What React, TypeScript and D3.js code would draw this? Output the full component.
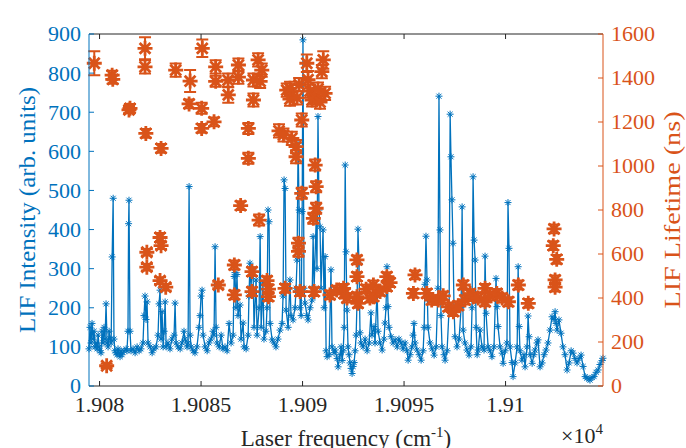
import React, { useEffect, useRef } from 'react';
import * as d3 from 'd3';

// LIF intensity scan: [frequency (cm^-1), intensity (arb. units)]
const intensityScan: [number, number][] = [
  [19079.48, 95], [19079.53, 150], [19079.58, 110], [19079.63, 160], [19079.68, 120],
  [19079.73, 140], [19079.78, 100], [19079.83, 110], [19079.88, 95], [19079.93, 130],
  [19079.98, 100], [19080.02, 90], [19080.07, 85], [19080.12, 140], [19080.17, 110],
  [19080.22, 150], [19080.27, 120], [19080.32, 210], [19080.37, 110], [19080.42, 100],
  [19080.47, 140], [19080.52, 120], [19080.57, 110], [19080.62, 330], [19080.67, 480],
  [19080.71, 120], [19080.76, 90], [19080.81, 85], [19080.86, 80], [19080.91, 95],
  [19080.96, 85], [19081.01, 75], [19081.06, 90], [19081.11, 80], [19081.21, 90],
  [19081.31, 95], [19081.35, 90], [19081.40, 140], [19081.43, 415], [19081.45, 475],
  [19081.50, 140], [19081.55, 90], [19081.65, 95], [19081.75, 85], [19081.85, 100],
  [19081.95, 90], [19082.04, 95], [19082.14, 110], [19082.19, 180], [19082.24, 230],
  [19082.29, 170], [19082.34, 215], [19082.39, 110], [19082.49, 100], [19082.59, 85],
  [19082.68, 95], [19082.78, 100], [19082.88, 130], [19082.93, 210], [19082.98, 245],
  [19083.03, 120], [19083.08, 190], [19083.13, 100], [19083.18, 140], [19083.23, 215],
  [19083.28, 100], [19083.37, 110], [19083.47, 95], [19083.57, 120], [19083.67, 130],
  [19083.72, 212], [19083.77, 110], [19083.87, 100], [19083.97, 95], [19084.06, 110],
  [19084.16, 140], [19084.21, 120], [19084.31, 100], [19084.36, 110], [19084.41, 510],
  [19084.46, 130], [19084.51, 100], [19084.61, 90], [19084.70, 85], [19084.80, 100],
  [19084.90, 150], [19084.95, 180], [19085.00, 230], [19085.05, 245], [19085.10, 130],
  [19085.20, 100], [19085.30, 90], [19085.39, 110], [19085.49, 120], [19085.59, 140],
  [19085.64, 130], [19085.69, 356], [19085.74, 150], [19085.79, 110], [19085.89, 100],
  [19085.99, 130], [19086.08, 95], [19086.18, 100], [19086.28, 90], [19086.38, 160],
  [19086.48, 110], [19086.58, 130], [19086.63, 280], [19086.67, 290], [19086.72, 200],
  [19086.77, 285], [19086.82, 180], [19086.92, 207], [19086.97, 120], [19087.07, 161],
  [19087.12, 100], [19087.22, 95], [19087.32, 130], [19087.36, 230], [19087.41, 314],
  [19087.46, 250], [19087.51, 300], [19087.56, 297], [19087.61, 150], [19087.71, 271],
  [19087.76, 130], [19087.86, 200], [19087.91, 382], [19087.96, 150], [19088.05, 263],
  [19088.10, 120], [19088.20, 140], [19088.25, 200], [19088.30, 450], [19088.35, 420],
  [19088.40, 160], [19088.50, 118], [19088.60, 110], [19088.69, 100], [19088.79, 120],
  [19088.89, 143], [19088.99, 160], [19089.04, 230], [19089.09, 527], [19089.14, 505],
  [19089.19, 194], [19089.29, 150], [19089.38, 271], [19089.43, 180], [19089.53, 169],
  [19089.63, 200], [19089.68, 250], [19089.73, 322], [19089.78, 620], [19089.83, 450],
  [19089.88, 200], [19089.93, 180], [19089.98, 446], [19090.02, 885], [19090.07, 250],
  [19090.12, 212], [19090.22, 180], [19090.27, 169], [19090.37, 200], [19090.47, 220],
  [19090.52, 382], [19090.57, 250], [19090.67, 424], [19090.71, 300], [19090.76, 689],
  [19090.81, 450], [19090.86, 407], [19090.91, 250], [19091.01, 399], [19091.06, 200],
  [19091.11, 331], [19091.16, 90], [19091.21, 75], [19091.31, 80], [19091.40, 297],
  [19091.45, 100], [19091.55, 85], [19091.60, 92], [19091.70, 70], [19091.75, 49],
  [19091.85, 80], [19091.90, 100], [19091.95, 65], [19092.00, 90], [19092.05, 150],
  [19092.10, 565], [19092.14, 343], [19092.19, 194], [19092.24, 100], [19092.29, 80],
  [19092.34, 59], [19092.39, 45], [19092.44, 32], [19092.49, 50], [19092.54, 60],
  [19092.59, 90], [19092.64, 130], [19092.69, 230], [19092.73, 401], [19092.78, 314],
  [19092.83, 136], [19092.88, 110], [19092.98, 100], [19093.08, 120], [19093.18, 90],
  [19093.28, 110], [19093.37, 187], [19093.42, 130], [19093.52, 152], [19093.57, 110],
  [19093.67, 246], [19093.72, 140], [19093.82, 110], [19093.92, 92], [19094.01, 120],
  [19094.06, 161], [19094.11, 200], [19094.16, 305], [19094.21, 203], [19094.26, 150],
  [19094.36, 126], [19094.46, 110], [19094.56, 118], [19094.66, 100], [19094.75, 120],
  [19094.85, 110], [19094.95, 95], [19095.05, 110], [19095.15, 90], [19095.20, 66],
  [19095.30, 80], [19095.39, 100], [19095.44, 130], [19095.49, 160], [19095.54, 110],
  [19095.64, 92], [19095.74, 80], [19095.84, 66], [19095.94, 90], [19095.99, 150],
  [19096.03, 260], [19096.08, 383], [19096.13, 271], [19096.18, 150], [19096.28, 110],
  [19096.38, 95], [19096.48, 79], [19096.58, 100], [19096.67, 250], [19096.72, 741],
  [19096.77, 399], [19096.82, 180], [19096.87, 100], [19096.97, 80], [19097.02, 66],
  [19097.12, 90], [19097.22, 200], [19097.27, 695], [19097.31, 586], [19097.36, 476],
  [19097.41, 365], [19097.46, 200], [19097.51, 126], [19097.61, 100], [19097.71, 120],
  [19097.81, 200], [19097.86, 458], [19097.91, 143], [19098.00, 110], [19098.10, 92],
  [19098.20, 79], [19098.30, 100], [19098.35, 200], [19098.40, 535], [19098.45, 373],
  [19098.50, 322], [19098.55, 150], [19098.60, 80], [19098.65, 92], [19098.74, 143],
  [19098.84, 100], [19098.94, 92], [19098.99, 332], [19099.04, 186], [19099.14, 100],
  [19099.24, 90], [19099.33, 75], [19099.43, 100], [19099.53, 275], [19099.58, 203],
  [19099.63, 152], [19099.73, 100], [19099.83, 84], [19099.88, 58], [19099.98, 90],
  [19100.07, 110], [19100.12, 469], [19100.17, 352], [19100.22, 100], [19100.32, 60],
  [19100.37, 24], [19100.47, 59], [19100.57, 100], [19100.62, 305], [19100.67, 152],
  [19100.71, 90], [19100.81, 66], [19100.91, 80], [19100.96, 49], [19101.06, 100],
  [19101.11, 179], [19101.16, 126], [19101.21, 80], [19101.31, 58], [19101.40, 80],
  [19101.45, 92], [19101.55, 110], [19101.60, 118], [19101.70, 49], [19101.80, 59],
  [19101.90, 80], [19101.99, 92], [19102.09, 110], [19102.19, 143], [19102.29, 177],
  [19102.39, 170], [19102.44, 190], [19102.49, 160], [19102.54, 143], [19102.63, 169],
  [19102.73, 135], [19102.83, 100], [19102.93, 80], [19103.03, 41], [19103.13, 59],
  [19103.23, 90], [19103.33, 84], [19103.42, 70], [19103.52, 59], [19103.62, 70],
  [19103.72, 79], [19103.82, 50], [19103.92, 24], [19104.01, 20], [19104.11, 18],
  [19104.16, 15], [19104.26, 22], [19104.36, 24], [19104.46, 35], [19104.56, 41],
  [19104.65, 55], [19104.75, 65], [19104.80, 71],
];

// LIF lifetimes: [frequency (cm^-1), lifetime (ns), error (ns)]
const lifetimes: [number, number, number][] = [
  [19079.74, 1467, 55], [19080.35, 92, 10], [19080.62, 1413, 20], [19080.65, 1394, 20],
  [19081.45, 1255, 15], [19081.50, 1262, 20], [19082.24, 1535, 50], [19082.24, 1451, 30],
  [19082.28, 1148, 20], [19082.33, 608, 15], [19082.33, 540, 15], [19082.98, 675, 20],
  [19083.03, 638, 15], [19083.03, 1080, 20], [19082.98, 479, 15], [19083.26, 449, 15],
  [19083.75, 1436, 30], [19084.41, 1282, 20], [19084.46, 1386, 50], [19085.06, 1535, 40],
  [19085.03, 1262, 25], [19085.03, 1171, 20], [19085.64, 1201, 20], [19085.72, 1451, 30],
  [19085.72, 1385, 25], [19085.85, 459, 15], [19086.34, 1323, 35], [19086.33, 1390, 30],
  [19086.64, 550, 20], [19086.64, 414, 20], [19086.84, 1459, 30], [19086.84, 1404, 30],
  [19086.95, 820, 20], [19087.33, 1171, 25], [19087.33, 1035, 25], [19087.51, 520, 20],
  [19087.51, 429, 20], [19087.58, 1300, 30], [19087.58, 1391, 30], [19087.81, 1482, 30],
  [19087.86, 754, 25], [19087.91, 1385, 30], [19087.99, 1436, 30], [19088.25, 479, 20],
  [19088.32, 406, 20], [19088.32, 440, 20], [19088.84, 1160, 30], [19089.06, 1141, 30],
  [19089.14, 444, 20], [19089.22, 1345, 30], [19089.38, 1353, 30], [19089.38, 1304, 30],
  [19089.47, 1126, 30], [19089.68, 1088, 30], [19089.68, 1042, 30], [19089.73, 1310, 30],
  [19089.80, 649, 25], [19089.80, 612, 25], [19089.83, 1370, 30], [19089.88, 429, 20],
  [19089.96, 876, 25], [19089.96, 1209, 30], [19090.21, 1467, 40], [19090.27, 1392, 40],
  [19090.37, 1340, 30], [19090.47, 1300, 30], [19090.53, 762, 25], [19090.57, 429, 20],
  [19090.62, 1004, 25], [19090.62, 1310, 30], [19090.67, 906, 25], [19090.67, 808, 25],
  [19090.76, 1350, 30], [19090.86, 1290, 30], [19090.95, 1429, 30], [19091.02, 1482, 40],
  [19091.11, 1330, 30], [19091.35, 414, 20], [19091.68, 436, 20], [19092.02, 444, 20],
  [19092.05, 420, 20], [19092.19, 400, 20], [19092.68, 573, 20], [19092.68, 497, 20],
  [19092.68, 406, 20], [19092.73, 376, 20], [19093.13, 440, 20], [19093.32, 400, 20],
  [19093.49, 459, 20], [19093.49, 406, 20], [19093.82, 430, 20], [19094.15, 497, 20],
  [19094.15, 452, 20], [19094.31, 470, 20], [19095.46, 421, 20], [19095.54, 505, 20],
  [19096.12, 421, 20], [19096.36, 391, 20], [19096.69, 391, 20], [19096.93, 410, 20],
  [19097.18, 360, 20], [19097.43, 338, 20], [19097.67, 365, 20], [19097.92, 459, 20],
  [19098.00, 391, 20], [19098.25, 420, 20], [19098.41, 406, 20], [19098.65, 400, 20],
  [19098.99, 444, 20], [19098.99, 383, 20], [19099.24, 410, 20], [19099.57, 421, 20],
  [19099.83, 400, 20], [19100.14, 383, 20], [19100.63, 459, 20], [19101.12, 376, 20],
  [19102.35, 638, 20], [19102.39, 714, 20], [19102.44, 482, 20], [19102.44, 449, 20],
  [19102.52, 576, 20],
];

const freqTicks = [19080, 19085, 19090, 19095, 19100];
const freqTickLabels = ['1.908', '1.9085', '1.909', '1.9095', '1.91'];
const intensityTicks = [0, 100, 200, 300, 400, 500, 600, 700, 800, 900];
const lifetimeTicks = [0, 200, 400, 600, 800, 1000, 1200, 1400, 1600];

const BLUE = '#0072BD';
const ORANGE = '#D95319';
const AXIS = '#262626';

// asterisk marker centred at 0,0
const star = (r: number) => {
  const a = r * 0.72;
  return `M0,${-r}V${r}M${-r},0H${r}M${-a},${-a}L${a},${a}M${-a},${a}L${a},${-a}`;
};

const App: React.FC = () => {
  const ref = useRef<SVGSVGElement>(null);

  useEffect(() => {
    const svg = d3.select(ref.current);
    svg.selectAll('*').remove();

    const left = 89, right = 603, top = 34, bottom = 386;

    const x = d3.scaleLinear().domain([19079.48, 19104.8]).range([left, right]);
    const yI = d3.scaleLinear().domain([0, 900]).range([bottom, top]);
    const yL = d3.scaleLinear().domain([0, 1600]).range([bottom, top]);

    const line = d3.line<[number, number]>()
      .x((d) => x(d[0]))
      .y((d) => yI(d[1]));

    svg.append('path')
      .datum(intensityScan)
      .attr('d', line)
      .attr('fill', 'none')
      .attr('stroke', BLUE)
      .attr('stroke-width', 1.3);

    svg.append('g')
      .selectAll('path')
      .data(intensityScan)
      .enter()
      .append('path')
      .attr('transform', (d) => `translate(${x(d[0])},${yI(d[1])})`)
      .attr('d', star(3.5))
      .attr('fill', 'none')
      .attr('stroke', BLUE)
      .attr('stroke-width', 1);

    // lifetimes with error bars
    const err = svg.append('g')
      .attr('stroke', ORANGE)
      .attr('stroke-width', 2)
      .attr('fill', 'none');

    err.selectAll('path')
      .data(lifetimes)
      .enter()
      .append('path')
      .attr('d', (d) => {
        const cx = x(d[0]);
        const y0 = yL(d[1] - d[2]);
        const y1 = yL(d[1] + d[2]);
        return `M${cx},${y0}V${y1}M${cx - 6},${y0}H${cx + 6}M${cx - 6},${y1}H${cx + 6}`;
      });

    svg.append('g')
      .selectAll('path')
      .data(lifetimes)
      .enter()
      .append('path')
      .attr('transform', (d) => `translate(${x(d[0])},${yL(d[1])})`)
      .attr('d', star(7.5))
      .attr('fill', 'none')
      .attr('stroke', ORANGE)
      .attr('stroke-width', 2.8);

    // box
    const axes = svg.append('g').attr('fill', 'none').attr('stroke-width', 1);
    axes.append('path').attr('d', `M${left},${top}H${right}`).attr('stroke', AXIS);
    axes.append('path').attr('d', `M${left},${bottom}H${right}`).attr('stroke', AXIS);
    axes.append('path').attr('d', `M${left},${top}V${bottom}`).attr('stroke', BLUE);
    axes.append('path').attr('d', `M${right},${top}V${bottom}`).attr('stroke', ORANGE);

    const labels = svg.append('g');

    freqTicks.forEach((t, i) => {
      const px = x(t);
      axes.append('path').attr('d', `M${px},${bottom}V${bottom - 5}`).attr('stroke', AXIS);
      axes.append('path').attr('d', `M${px},${top}V${top + 5}`).attr('stroke', AXIS);
      labels.append('text')
        .attr('x', px)
        .attr('y', 412)
        .attr('text-anchor', 'middle')
        .attr('font-size', 22)
        .attr('fill', AXIS)
        .text(freqTickLabels[i]);
    });

    intensityTicks.forEach((t) => {
      const py = yI(t);
      axes.append('path').attr('d', `M${left},${py}H${left + 5}`).attr('stroke', BLUE);
      labels.append('text')
        .attr('x', 81)
        .attr('y', py)
        .attr('dy', '0.34em')
        .attr('text-anchor', 'end')
        .attr('font-size', 22)
        .attr('fill', BLUE)
        .text(t);
    });

    lifetimeTicks.forEach((t) => {
      const py = yL(t);
      axes.append('path').attr('d', `M${right},${py}H${right - 5}`).attr('stroke', ORANGE);
      labels.append('text')
        .attr('x', 611)
        .attr('y', py)
        .attr('dy', '0.34em')
        .attr('text-anchor', 'start')
        .attr('font-size', 22)
        .attr('fill', ORANGE)
        .text(t);
    });

    // axis labels
    const xl = labels.append('text')
      .attr('x', (left + right) / 2)
      .attr('y', 446)
      .attr('text-anchor', 'middle')
      .attr('font-size', 23)
      .attr('fill', AXIS);
    xl.append('tspan').text('Laser frequency (cm');
    xl.append('tspan').attr('font-size', 15).attr('dy', -9).text('-1');
    xl.append('tspan').attr('dy', 9).text(')');

    const mult = labels.append('text')
      .attr('x', 603)
      .attr('y', 443)
      .attr('text-anchor', 'end')
      .attr('font-size', 22)
      .attr('fill', AXIS);
    mult.append('tspan').text('×10');
    mult.append('tspan').attr('font-size', 15).attr('dy', -9).text('4');

    labels.append('text')
      .attr('transform', `translate(35,210) rotate(-90)`)
      .attr('text-anchor', 'middle')
      .attr('font-size', 24)
      .attr('textLength', 246)
      .attr('lengthAdjust', 'spacingAndGlyphs')
      .attr('fill', BLUE)
      .text('LIF Intensity (arb. units)');

    labels.append('text')
      .attr('transform', `translate(680,210) rotate(-90)`)
      .attr('text-anchor', 'middle')
      .attr('font-size', 24)
      .attr('textLength', 197)
      .attr('lengthAdjust', 'spacingAndGlyphs')
      .attr('fill', ORANGE)
      .text('LIF Lifetime (ns)');
  }, []);

  return (
    <svg
      ref={ref}
      width={686}
      height={448}
      style={{
        position: 'absolute',
        left: 0,
        top: 0,
        background: '#fff',
        fontFamily: "'Liberation Serif', serif",
      }}
    />
  );
};

export default App;
